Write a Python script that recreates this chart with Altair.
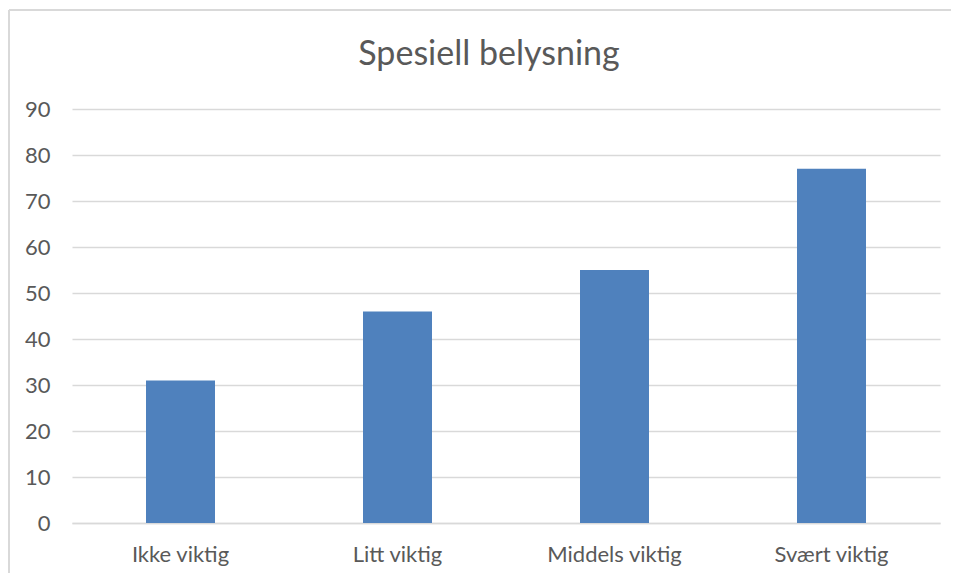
import altair as alt
import pandas as pd

categories = ["Ikke viktig", "Litt viktig", "Middels viktig", "Svært viktig"]
values = [31, 46, 55, 77]
title_text = "Spesiell belysning"

df = pd.DataFrame({"kategori": categories, "verdi": values})

FONT = "Lato"
GRAY = "#595959"

bars = alt.Chart(df).mark_bar(size=69, color="#4f81bd").encode(
    x=alt.X("kategori:N", sort=categories, title=None,
            scale=alt.Scale(paddingInner=0, paddingOuter=0),
            axis=alt.Axis(labelAngle=0, ticks=False, domain=True, domainColor="#d9d9d9",
                          domainWidth=1.3, labelFont=FONT, labelFontSize=22, labelColor=GRAY,
                          labelPadding=21, grid=False)),
    y=alt.Y("verdi:Q", title=None,
            scale=alt.Scale(domain=[0, 90], nice=False),
            axis=alt.Axis(values=list(range(0, 100, 10)), ticks=False, domain=False,
                          labelFont=FONT, labelFontSize=22, labelColor=GRAY, labelPadding=22,
                          gridColor="#d9d9d9", gridWidth=1.3)),
)

frame_top = alt.Chart(df).mark_rule(color="#d9d9d9", strokeWidth=1.5).encode(
    x=alt.value(-63), x2=alt.value(900), y=alt.value(-99)
)
frame_left = alt.Chart(df).mark_rule(color="#d9d9d9", strokeWidth=1.5).encode(
    x=alt.value(-63), y=alt.value(-99), y2=alt.value(475)
)

chart = alt.layer(bars, frame_top, frame_left).properties(
    width=868, height=414,
    autosize=alt.AutoSizeParams(type="none"),
    padding={"left": 64, "top": 101, "right": 11, "bottom": 50},
    title=alt.TitleParams(title_text, font=FONT, fontSize=34, fontWeight="normal",
                          color=GRAY, anchor="middle", frame="group", dx=-17,
                          offset=0, dy=63),
).configure_view(stroke=None)

chart.save("out.html", embed_options={"renderer": "svg", "actions": False})
